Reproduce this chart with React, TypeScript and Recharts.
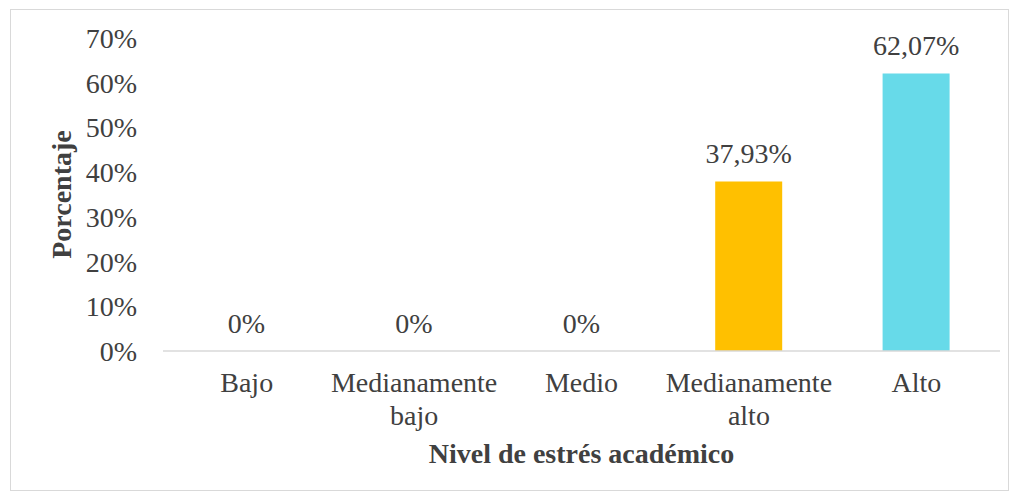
import { Bar, BarChart, Cell, LabelList, XAxis, YAxis } from "recharts"

const categories = ["Bajo", "Medianamente bajo", "Medio", "Medianamente alto", "Alto"]
const percentages = [0, 0, 0, 37.93, 62.07]
const yTicks = [0, 10, 20, 30, 40, 50, 60, 70]

const barColors = ["#4472c4", "#ed7d31", "#a5a5a5", "#ffc000", "#67dae9"]
const font = "'Liberation Serif', 'Times New Roman', serif"
const ink = "#404040"

const data = categories.map((nivel, i) => ({ nivel, valor: percentages[i] }))

const fmt = (v: number) => String(v).replace(".", ",") + "%"

function CategoryTick(props: any) {
  const { x, y, payload } = props
  const lines = String(payload.value).split(" ")
  return (
    <text x={x} y={y} textAnchor="middle" fill={ink} fontFamily={font} fontSize={28}>
      {lines.map((l, i) => (
        <tspan key={i} x={x} dy={33}>
          {l}
        </tspan>
      ))}
    </text>
  )
}

function ValueLabel(props: any) {
  const { x, y, width, height, value } = props
  const top = Math.min(Number(y), Number(y) + Number(height))
  return (
    <text
      x={Number(x) + Number(width) / 2}
      y={Math.round(top) - 18}
      textAnchor="middle"
      fill={ink}
      fontFamily={font}
      fontSize={28}
    >
      {fmt(Number(value))}
    </text>
  )
}

export default function App() {
  return (
    <div
      style={{
        marginLeft: 2,
        marginTop: 1,
        width: 997,
        height: 480,
        border: "1px solid #d9d9d9",
        background: "#fff",
      }}
    >
      <BarChart
        width={997}
        height={480}
        data={data}
        margin={{ top: 28, right: 8, left: 0, bottom: 27 }}
        barSize={67}
      >
        <XAxis
          dataKey="nivel"
          height={112}
          tickLine={false}
          axisLine={{ stroke: "#d9d9d9", strokeWidth: 1.5 }}
          tick={<CategoryTick />}
          interval={0}
          label={{
            value: "Nivel de estrés académico",
            position: "insideBottom",
            offset: 0,
            fill: ink,
            fontFamily: font,
            fontSize: 28,
            fontWeight: "bold",
          }}
        />
        <YAxis
          width={152}
          domain={[0, 70]}
          ticks={yTicks}
          tickFormatter={(v) => v + "%"}
          tickLine={false}
          axisLine={false}
          tickMargin={20}
          tick={{ fill: ink, fontFamily: font, fontSize: 28 }}
          label={{
            value: "Porcentaje",
            angle: -90,
            position: "insideLeft",
            offset: 50,
            fill: ink,
            fontFamily: font,
            fontSize: 28,
            fontWeight: "bold",
            style: { textAnchor: "middle" },
          }}
        />
        <Bar
          dataKey="valor"
          isAnimationActive={false}
          minPointSize={(v: any) => (Number(v) === 0 ? 0.01 : 0)}
        >
          {data.map((d, i) => (
            <Cell key={d.nivel} fill={percentages[i] === 0 ? "none" : barColors[i]} />
          ))}
          <LabelList dataKey="valor" content={<ValueLabel />} />
        </Bar>
      </BarChart>
    </div>
  )
}
